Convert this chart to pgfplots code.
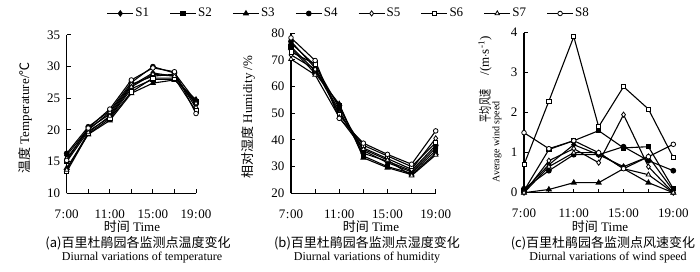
\documentclass[border=0pt]{standalone}
\usepackage{fontspec}
\setmainfont{Liberation Serif}
\newfontfamily\cjk{Noto Sans CJK SC}
\usepackage{graphicx}
\usepackage{pgfplots}
\usepackage{pgfplotstable}
\pgfplotsset{compat=1.18}

\pgfplotstableread{
t S1 S2 S3 S4 S5 S6 S7 S8
7 16.0 15.0 14.0 16.3 15.5 13.4 13.7 15.2
9 20.2 19.8 19.3 20.5 20.0 19.4 19.6 20.3
11 22.5 22.0 21.5 23.0 22.8 21.8 22.2 23.3
13 27.0 26.5 25.8 27.5 27.2 26.0 26.8 27.9
15 29.0 28.0 27.4 30.0 28.5 28.2 28.8 29.8
17 28.5 28.0 27.9 29.0 28.8 28.2 28.5 29.2
19 24.0 24.5 24.8 24.5 23.5 23.0 24.2 22.6
}\temptab

\pgfplotstableread{
t S1 S2 S3 S4 S5 S6 S7 S8
7 76.3 75.0 74.4 77.0 71.9 73.0 70.3 78.3
9 68.0 66.0 65.0 67.0 66.5 68.5 64.4 69.8
11 52.0 53.0 53.5 51.0 50.0 49.5 48.5 48.1
13 36.0 34.0 33.3 35.0 37.0 38.0 36.5 38.8
15 31.5 30.0 29.6 32.0 33.0 34.0 32.5 34.6
17 28.0 27.5 27.0 28.5 29.0 30.0 26.6 30.9
19 37.0 36.0 35.0 38.0 40.6 39.0 34.4 43.4
}\humtab

\pgfplotstableread{
t S1 S2 S3 S4 S5 S6 S7 S8
7 0.05 0.05 0.00 0.10 0.00 0.70 0.00 1.50
9 0.70 1.08 0.08 0.55 0.80 2.29 0.65 1.10
11 1.20 1.30 0.25 0.95 1.10 3.90 1.00 1.30
13 0.95 1.55 0.25 0.95 0.75 1.65 1.00 1.00
15 0.65 1.12 0.60 1.15 1.95 2.65 0.60 0.60
17 0.90 1.15 0.25 0.80 0.65 2.09 0.45 0.90
19 0.05 0.10 0.00 0.55 0.00 0.88 0.00 1.21
}\windtab

\pgfplotsset{
  ln/.style={black, solid, line width=1.1pt},
  s1/.style={ln, mark=diamond*, mark size=2.6pt, mark options={solid, draw=black, fill=black}},
  s2/.style={ln, mark=square*, mark size=2.1pt, mark options={solid, draw=black, fill=black}},
  s3/.style={ln, mark=triangle*, mark size=2.6pt, mark options={solid, draw=black, fill=black}},
  s4/.style={ln, mark=*, mark size=2.3pt, mark options={solid, draw=black, fill=black}},
  s5/.style={ln, mark=diamond*, mark size=2.6pt, mark options={solid, draw=black, fill=white, line width=0.8pt}},
  s6/.style={ln, mark=square*, mark size=2.1pt, mark options={solid, draw=black, fill=white, line width=0.8pt}},
  s7/.style={ln, mark=triangle*, mark size=2.6pt, mark options={solid, draw=black, fill=white, line width=0.8pt}},
  s8/.style={ln, mark=*, mark size=2.3pt, mark options={solid, draw=black, fill=white, line width=0.8pt}},
  base/.style={
    scale only axis, anchor=south west,
    axis lines*=left, axis line style={line width=1.1pt, -},
    tick align=inside, major tick length=4pt,
    tick style={line width=1pt, black},
    xmin=7, xmax=19, xtick={7,9,...,19},
    xticklabels={{7\kern0.5pt:\kern0.5pt00},,{11\kern0.5pt:\kern0.5pt00},,{15\kern0.5pt:\kern0.5pt00},,{19\kern0.5pt:\kern0.5pt00}},
    tick label style={font=\fontsize{13}{15}\selectfont},
    xticklabel style={yshift=-12pt},
    yticklabel style={xshift=-2pt},
    /pgf/number format/assume math mode=true,
    clip=false,
    legend image code/.code={\draw[mark repeat=2,mark phase=2] plot coordinates {(0pt,0pt)(13pt,0pt)(26pt,0pt)};},
  },
}

\begin{document}
\fontsize{13}{15}\selectfont
\begin{tikzpicture}[x=1pt,y=1pt]
\path[use as bounding box] (0,0) rectangle (700,272);

% (a) temperature
\begin{axis}[base, at={(66.7pt,78.7pt)}, width=129.3pt, height=158.3pt,
  ymin=10, ymax=35, ytick={10,15,...,35},
  legend style={at={(axis description cs:2.18,1.136)}, anchor=center, draw=none, fill=none,
    legend columns=8, font=\fontsize{13}{15}\selectfont,
    nodes={inner sep=1.5pt},
    /tikz/every even column/.append style={column sep=19pt}},
]
\addplot[s1] table[x=t,y=S1]{\temptab};
\addplot[s2] table[x=t,y=S2]{\temptab};
\addplot[s3] table[x=t,y=S3]{\temptab};
\addplot[s4] table[x=t,y=S4]{\temptab};
\addplot[s5] table[x=t,y=S5]{\temptab};
\addplot[s6] table[x=t,y=S6]{\temptab};
\addplot[s7] table[x=t,y=S7]{\temptab};
\addplot[s8] table[x=t,y=S8]{\temptab};
\legend{S1,S2,S3,S4,S5,S6,S7,S8}
\end{axis}

% (b) humidity
\begin{axis}[base, at={(291pt,78.7pt)}, width=144.7pt, height=160pt,
  ymin=20, ymax=80, ytick={20,30,...,80}]
\addplot[s1] table[x=t,y=S1]{\humtab};
\addplot[s2] table[x=t,y=S2]{\humtab};
\addplot[s3] table[x=t,y=S3]{\humtab};
\addplot[s4] table[x=t,y=S4]{\humtab};
\addplot[s5] table[x=t,y=S5]{\humtab};
\addplot[s6] table[x=t,y=S6]{\humtab};
\addplot[s7] table[x=t,y=S7]{\humtab};
\addplot[s8] table[x=t,y=S8]{\humtab};
\end{axis}

% (c) wind
\begin{axis}[base, at={(524pt,79.3pt)}, width=149.3pt, height=160pt,
  ymin=0, ymax=4, ytick={0,1,...,4}]
\addplot[s1] table[x=t,y=S1]{\windtab};
\addplot[s2] table[x=t,y=S2]{\windtab};
\addplot[s3] table[x=t,y=S3]{\windtab};
\addplot[s4] table[x=t,y=S4]{\windtab};
\addplot[s5] table[x=t,y=S5]{\windtab};
\addplot[s6] table[x=t,y=S6]{\windtab};
\addplot[s7] table[x=t,y=S7]{\windtab};
\addplot[s8] table[x=t,y=S8]{\windtab};
\end{axis}

% y labels
\node[rotate=90, inner sep=0pt] at (25,154) {{\cjk 温度} Temperature/{\cjk ℃}};
\node[rotate=90, inner sep=0pt] at (248,155) {{\cjk 相对湿度} Humidity /\%};
\node[rotate=90, inner sep=0pt] at (485,166) {\scalebox{0.62}[1]{\cjk 平均风速}};
\node[rotate=90, inner sep=0pt] at (485,216) {/(m$\cdot$s\textsuperscript{-1})};
\node[rotate=90, inner sep=0pt, font=\fontsize{10}{12}\selectfont] at (497,130) {Average wind speed};

% x labels
\node[inner sep=0pt] at (132,45) {{\cjk 时间} Time};
\node[inner sep=0pt] at (371,45) {{\cjk 时间} Time};
\node[inner sep=0pt] at (600,45) {{\cjk 时间} Time};

% captions
\node[inner sep=0pt] at (138,29) {{\cjk (a)百里杜鹃园各监测点温度变化}};
\node[inner sep=0pt] at (367,29) {{\cjk (b)百里杜鹃园各监测点湿度变化}};
\node[inner sep=0pt] at (603,29) {{\cjk (c)百里杜鹃园各监测点风速变化}};
\node[inner sep=0pt, font=\fontsize{12}{14}\selectfont] at (142,14) {Diurnal variations of temperature};
\node[inner sep=0pt, font=\fontsize{12}{14}\selectfont] at (367,14) {Diurnal variations of humidity};
\node[inner sep=0pt, font=\fontsize{12}{14}\selectfont] at (608,14) {Diurnal variations of wind speed};
\end{tikzpicture}
\end{document}
